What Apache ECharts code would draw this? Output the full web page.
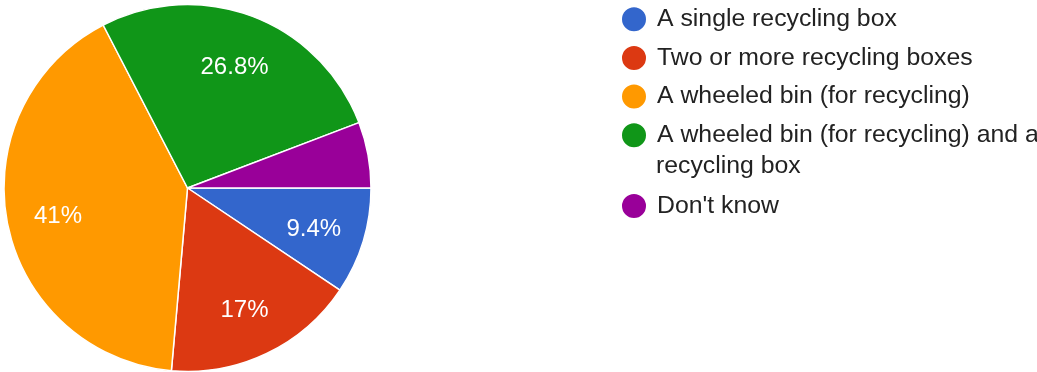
<!DOCTYPE html>
<html>
<head>
<meta charset="utf-8">
<script src="https://cdn.jsdelivr.net/npm/echarts@6/dist/echarts.min.js"></script>
<style>
  html, body { margin: 0; padding: 0; background: #fff; }
  #main { width: 1037px; height: 372px; }
</style>
</head>
<body>
<div id="main"></div>
<script>
// answers and their share of responses (%)
const categories = [
  'A single recycling box',
  'Two or more recycling boxes',
  'A wheeled bin (for recycling)',
  'A wheeled bin (for recycling) and a recycling box',
  "Don't know"
];
const shares = [9.4, 17, 41, 26.8, 5.8];
const colors = ['#3366cc', '#dc3912', '#ff9900', '#109618', '#990099'];

const pieData = categories.map((name, i) => ({ name: name, value: shares[i] }));

const chart = echarts.init(document.getElementById('main'));

const legendText = {
  fontFamily: 'Liberation Sans, Arial, sans-serif',
  fontSize: 24.8,
  lineHeight: 24,
  color: '#222',
  padding: [0, 0, 0, 5]
};

const option = {
  animation: false,
  color: colors,
  legend: [
    {
      orient: 'vertical',
      left: 620,
      top: 5.2,
      padding: 0,
      icon: 'circle',
      itemWidth: 26,
      itemHeight: 26,
      itemGap: 10.7,
      selectedMode: false,
      data: categories.slice(0, 4),
      formatter: name => name === categories[3] ? 'A wheeled bin (for recycling) and a' : name,
      textStyle: legendText
    },
    {
      orient: 'vertical',
      left: 620,
      top: 192,
      padding: 0,
      icon: 'circle',
      itemWidth: 26,
      itemHeight: 26,
      selectedMode: false,
      data: categories.slice(4),
      textStyle: legendText
    }
  ],
  graphic: [
    {
      type: 'text',
      left: 656,
      top: 154,
      style: {
        text: 'recycling box',
        font: '24.8px "Liberation Sans", Arial, sans-serif',
        fill: '#222'
      }
    }
  ],
  series: [
    {
      type: 'pie',
      center: [187.5, 188],
      radius: [0, 183.5],
      startAngle: 0,
      clockwise: true,
      silent: true,
      itemStyle: { borderColor: '#fff', borderWidth: 1.5 },
      label: { show: false },
      labelLine: { show: false },
      data: pieData
    },
    {
      // transparent ring only used to place the percentage labels further out
      type: 'pie',
      center: [187.5, 188],
      radius: [84, 174],
      startAngle: 0,
      clockwise: true,
      silent: true,
      minShowLabelAngle: 25,
      itemStyle: { color: 'rgba(0,0,0,0)' },
      label: {
        show: true,
        position: 'inside',
        offset: [0, 3],
        formatter: p => p.value + '%',
        color: '#fff',
        fontFamily: 'Liberation Sans, Arial, sans-serif',
        fontSize: 24
      },
      labelLine: { show: false },
      data: pieData
    }
  ]
};

chart.setOption(option);
</script>
</body>
</html>
